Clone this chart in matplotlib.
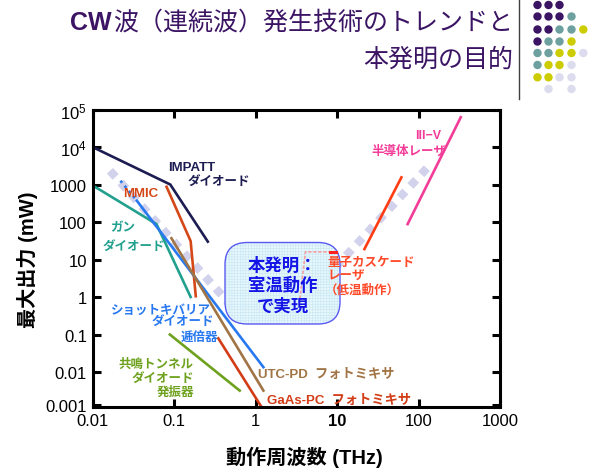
import matplotlib
matplotlib.use("Agg")
import matplotlib.pyplot as plt
from matplotlib.patches import FancyBboxPatch, Circle
from matplotlib.transforms import IdentityTransform

plt.rcParams['font.family'] = ['Liberation Sans', 'Noto Sans CJK JP', 'DejaVu Sans']
plt.rcParams['mathtext.fontset'] = 'custom'
plt.rcParams['mathtext.rm'] = 'Liberation Sans'
plt.rcParams['mathtext.it'] = 'Liberation Sans'

# ---------------- data (THz, mW) ----------------
impatt_f = [0.01, 0.09, 0.26]
impatt_p = [1e4, 1000, 30]
mmic_f = [0.081, 0.16, 0.185]
mmic_p = [870, 31, 1.05]
gunn_f = [0.01, 0.061, 0.16]
gunn_p = [950, 88, 1.0]
sbd_dot_f = [0.022, 0.035]
sbd_dot_p = [1260, 370]
sbd_f = [0.035, 1.25]
sbd_p = [370, 0.0135]
utc_f = [0.093, 1.25]
utc_p = [37, 0.0032]
gaas_f = [0.35, 1.24]
gaas_p = [0.079, 0.001]
rtd_f = [0.089, 0.64]
rtd_p = [0.1, 0.0032]
qcl_f = [21.7, 61.7]
qcl_p = [19, 1550]
iiiv_f = [73.5, 330]
iiiv_p = [88, 62000]
trend_f = [0.0164, 0.5, 1.5, 4.0, 12.9, 135]
trend_p = [2330, 0.6, 0.5, 0.8, 12.6, 3170]
lowT_f = [3.5, 4.1, 9.75]
lowT_p = [0.9, 16, 16]
lowT_solid_f = [8.1, 9.75]
lowT_solid_p = [16, 16]

yticks = [1e5, 1e4, 1000, 100, 10, 1, 0.1, 0.01, 0.00135]
ytick_labels = [r'$10^5$', r'$10^4$', '1000', '100', '10', '1', '0.1', '0.01', '0.001']
xticks = [0.01, 0.1, 1, 10, 100, 1000]
xtick_labels = ['0.01', '0.1', '1', '10', '100', '1000']

W, H = 595, 477
fig = plt.figure(figsize=(W / 100, H / 100), dpi=100)
fig.patch.set_facecolor('white')

L, R, T, B = 92.5, 500, 110.5, 408
ax = fig.add_axes([L / W, (H - B) / H, (R - L) / W, (B - T) / H])
ax.set_xscale('log')
ax.set_yscale('log')
ax.set_xlim(0.01, 1000)
ax.set_ylim(0.00117, 1e5)

lw = 1.9
# trend (dotted lavender)
ax.plot(trend_f, trend_p, color='#d2d2ec', lw=6, ls=(0, (1, 0.9)),
        dash_capstyle='butt', zorder=1)

ax.plot(impatt_f, impatt_p, color='#1c1c52', lw=lw, zorder=2)
ax.plot(mmic_f, mmic_p, color='#d44818', lw=lw, zorder=2)
ax.plot(gunn_f, gunn_p, color='#22a08e', lw=lw, zorder=2)
ax.plot(sbd_dot_f, sbd_dot_p, color='#2878f0', lw=lw, ls=(0, (1, 1.5)), zorder=2)
ax.plot(sbd_f, sbd_p, color='#2878f0', lw=lw, zorder=2)
ax.plot(utc_f, utc_p, color='#a07444', lw=lw, zorder=2)
ax.plot(gaas_f, gaas_p, color='#d23c16', lw=lw, zorder=2)
ax.plot(rtd_f, rtd_p, color='#6ea21e', lw=lw, zorder=2)
ax.plot(qcl_f, qcl_p, color='#ff3c14', lw=lw, zorder=2)
ax.plot(iiiv_f, iiiv_p, color='#f23c98', lw=lw, zorder=2)

# box (in pixel coordinates)
bx0, bx1, by0, by1 = 225, 340, 243.5, 325
box = FancyBboxPatch((bx0, H - by1), bx1 - bx0, by1 - by0,
                     boxstyle='round,pad=0,rounding_size=22',
                     transform=IdentityTransform(), facecolor='#e6f8fc',
                     edgecolor='none', alpha=0.96, zorder=3)
ax.add_patch(box)
plt.rcParams['hatch.linewidth'] = 0.4
hatch = FancyBboxPatch((bx0, H - by1), bx1 - bx0, by1 - by0,
                       boxstyle='round,pad=0,rounding_size=22',
                       transform=IdentityTransform(), facecolor='none',
                       edgecolor='#c8e6f4', hatch='++++++', lw=0, zorder=3)
ax.add_patch(hatch)
border = FancyBboxPatch((bx0, H - by1), bx1 - bx0, by1 - by0,
                        boxstyle='round,pad=0,rounding_size=22',
                        transform=IdentityTransform(), facecolor='none',
                        edgecolor='#5a5af2', lw=1.0, zorder=3.5)
ax.add_patch(border)

# low temperature QCL faint lines
ax.plot(lowT_f, lowT_p, color='#f4a0a0', lw=1.2, ls=(0, (2, 1)), zorder=4)
ax.plot(lowT_solid_f, lowT_solid_p, color='#ff2020', lw=2.2, zorder=4)

cx = (bx0 + bx1) / 2
for txt, yy in [('本発明：', 265), ('室温動作', 285.5), ('で実現', 306.5)]:
    ax.text(cx, H - yy, txt, transform=IdentityTransform(), ha='center', va='center',
            fontsize=12.5, fontweight='bold', color='#1414e6', zorder=5)

# labels
def lab(x, y, s, c, ha='left', fs=9):
    ax.text(x, y, s, color=c, ha=ha, va='center', fontsize=fs, fontweight='bold', zorder=6)

lab(0.084, 2930, 'IMPATT', '#1c1c52', fs=9.5)
lab(0.148, 1240, 'ダイオード', '#1c1c52')
lab(0.0236, 593, 'MMIC', '#d44818', fs=9.5)
lab(0.0164, 73.6, 'ガン', '#22a08e')
lab(0.0131, 22.9, 'ダイオード', '#22a08e')
lab(0.0168, 0.45, 'ショットキバリア', '#2878f0')
lab(0.0535, 0.229, 'ダイオード', '#2878f0')
lab(0.121, 0.0858, '逓倍器', '#2878f0')
lab(0.175, 0.0163, '共鳴トンネル', '#6ea21e', ha='right')
lab(0.175, 0.0069, 'ダイオード', '#6ea21e', ha='right')
lab(0.178, 0.00293, '発振器', '#6ea21e', ha='right')
lab(1.06, 0.00885, 'UTC-PD  フォトミキサ', '#a07444', fs=9.5)
lab(1.37, 0.00179, 'GaAs-PC  フォトミキサ', '#d23c16', fs=9.5)
lab(7.62, 8.57, '量子カスケード', '#ff4a2a')
lab(7.62, 3.63, 'レーザ', '#ff4a2a')
lab(7.0, 1.54, '（低温動作）', '#ff4a2a')
lab(190, 20900, 'III−V', '#f23c98', ha='right')
lab(218, 8300, '半導体レーザ', '#f23c98', ha='right')

# axes styling
for sp in ax.spines.values():
    sp.set_linewidth(2.2)
ax.set_xticks(xticks)
ax.set_xticklabels(xtick_labels)
ax.set_yticks(yticks)
ax.set_yticklabels(ytick_labels)
ax.minorticks_off()
ax.tick_params(which='major', direction='in', length=5.5, width=2.2,
               top=True, right=True, labelsize=12, pad=4)
for t in ax.get_xticklabels():
    if t.get_text() == '10':
        t.set_fontweight('bold')
ax.set_xlabel('動作周波数 (THz)', fontsize=14.5, fontweight='bold')
ax.set_ylabel('最大出力 (mW)', fontsize=14.5, fontweight='bold', labelpad=5)
ax.xaxis.label.set_verticalalignment('center')
ax.xaxis.set_label_coords((304 - L) / (R - L), -(457 - B) / (B - T))

# header decoration (pixel overlay)
ov = fig.add_axes([0, 0, 1, 1], zorder=-1)
ov.set_xlim(0, W)
ov.set_ylim(H, 0)
ov.axis('off')
ov.plot([519, 519], [0, 100], color='#404040', lw=1.0)

purple, teal, yellow, lav = '#3c1464', '#6ea0a0', '#cccc00', '#dcdcee'
dot_cols = [537.5, 548.5, 559.5, 571.5, 583.3]
dot_rows = [6, 17.5, 30.5, 42.5, 54, 66, 78.3, 90]
dot_grid = [
    [purple, purple, purple, None, None],
    [purple, purple, purple, teal, None],
    [purple, purple, teal, teal, yellow],
    [purple, teal, teal, yellow, None],
    [teal, teal, yellow, yellow, lav],
    [teal, yellow, yellow, lav, None],
    [yellow, yellow, lav, lav, None],
    [None, lav, None, lav, None],
]
for r, row in enumerate(dot_grid):
    for c, col in enumerate(row):
        if col:
            ov.add_patch(Circle((dot_cols[c], dot_rows[r]), 4.2, color=col, lw=0))

# title
title_col = '#3c1464'
t1 = fig.text(513 / W, 1 - 23 / H, '波（連続波）発生技術のトレンドと', ha='right', va='center',
              fontsize=18, color=title_col, family=['Noto Sans CJK JP'])
fig.text(513 / W, 1 - 60 / H, '本発明の目的', ha='right', va='center',
         fontsize=18, color=title_col, family=['Noto Sans CJK JP'])
fig.canvas.draw()
bb = t1.get_window_extent()
fig.text((bb.x0 - 1) / W, 1 - 23 / H, 'CW', ha='right', va='center', fontsize=18,
         fontweight='bold', color=title_col, family=['Liberation Sans'])

fig.savefig('out.png', dpi=100, facecolor='white')
